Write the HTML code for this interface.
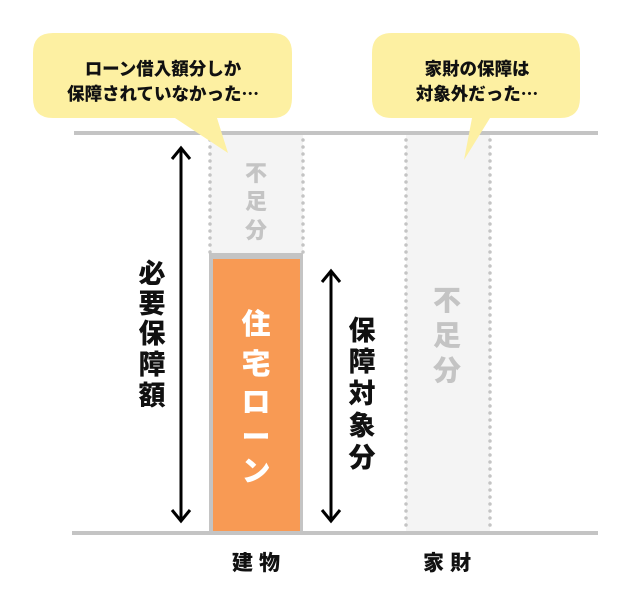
<!DOCTYPE html>
<html><head><meta charset="utf-8"><style>
body{margin:0;background:#fff}
svg text{font-family:"Noto Sans CJK JP","Liberation Sans",sans-serif;font-weight:900}
</style></head><body>
<svg width="626" height="603" viewBox="0 0 626 603" xmlns="http://www.w3.org/2000/svg">
<!-- columns -->
<rect x="210" y="135" width="93" height="120" fill="#f4f4f4"/>
<rect x="406" y="135" width="84" height="396" fill="#f4f4f4"/>
<g stroke="#c4c4c4" stroke-width="3.5" stroke-dasharray="0 7" stroke-linecap="round">
<line x1="210" y1="140" x2="210" y2="253"/><line x1="303" y1="140" x2="303" y2="253"/>
<line x1="406" y1="140" x2="406" y2="530"/><line x1="490" y1="140" x2="490" y2="530"/>
</g>
<!-- lines -->
<rect x="74" y="131" width="524" height="4" fill="#c4c4c4"/>
<rect x="72" y="531" width="526" height="4" fill="#c4c4c4"/>
<!-- bar -->
<rect x="209" y="253" width="94" height="280" fill="#c4c4c4"/>
<rect x="213" y="259" width="87" height="272" fill="#f89a54"/>
<!-- bubbles -->
<path d="M53 33 H272 Q292 33 292 53 V98 Q292 118 272 118 H217 L228 153 L175 118 H53 Q33 118 33 98 V53 Q33 33 53 33Z" fill="#fdf0a2"/>
<path d="M392 33 H560 Q580 33 580 53 V98 Q580 118 560 118 H490 L464 160 L472 118 H392 Q372 118 372 98 V53 Q372 33 392 33Z" fill="#fdf0a2"/>
<g font-size="17.5" text-anchor="middle" fill="#111">
<text x="163" y="75">ローン借入額分しか</text>
<text x="163" y="100">保障されていなかった…</text>
<text x="477" y="75">家財の保障は</text>
<text x="477" y="100">対象外だった…</text>
</g>
<!-- arrows -->
<g stroke="#000" stroke-width="3" fill="none">
<line x1="181" y1="149" x2="181" y2="520"/>
<path d="M172 159 L181 148 L190 159"/><path d="M172 510 L181 521 L190 510"/>
<line x1="331" y1="272" x2="331" y2="520"/>
<path d="M322 282 L331 271 L340 282"/><path d="M322 510 L331 521 L340 510"/>
</g>
<!-- labels -->
<g font-size="27" text-anchor="middle" fill="#111">
<text x="152" y="283">必</text><text x="152" y="313">要</text><text x="152" y="343">保</text><text x="152" y="374">障</text><text x="152" y="405">額</text>
<text x="362" y="340">保</text><text x="362" y="371">障</text><text x="362" y="403">対</text><text x="362" y="435">象</text><text x="362" y="467">分</text>
</g>
<g font-size="29" text-anchor="middle" fill="#fff">
<text x="256" y="334">住</text><text x="256" y="374">宅</text><text x="256" y="412">ロ</text><text x="256" y="447">ー</text><text x="256" y="481">ン</text>
</g>
<g font-size="22" text-anchor="middle" fill="#c4c4c4">
<text x="256" y="181">不</text><text x="256" y="209">足</text><text x="256" y="238">分</text>
</g>
<g font-size="28" text-anchor="middle" fill="#c4c4c4">
<text x="447" y="310">不</text><text x="447" y="345">足</text><text x="447" y="380">分</text>
</g>
<g font-size="21" text-anchor="middle" fill="#111" letter-spacing="6">
<text x="259" y="570">建物</text><text x="450" y="570">家財</text>
</g>
</svg>
</body></html>
